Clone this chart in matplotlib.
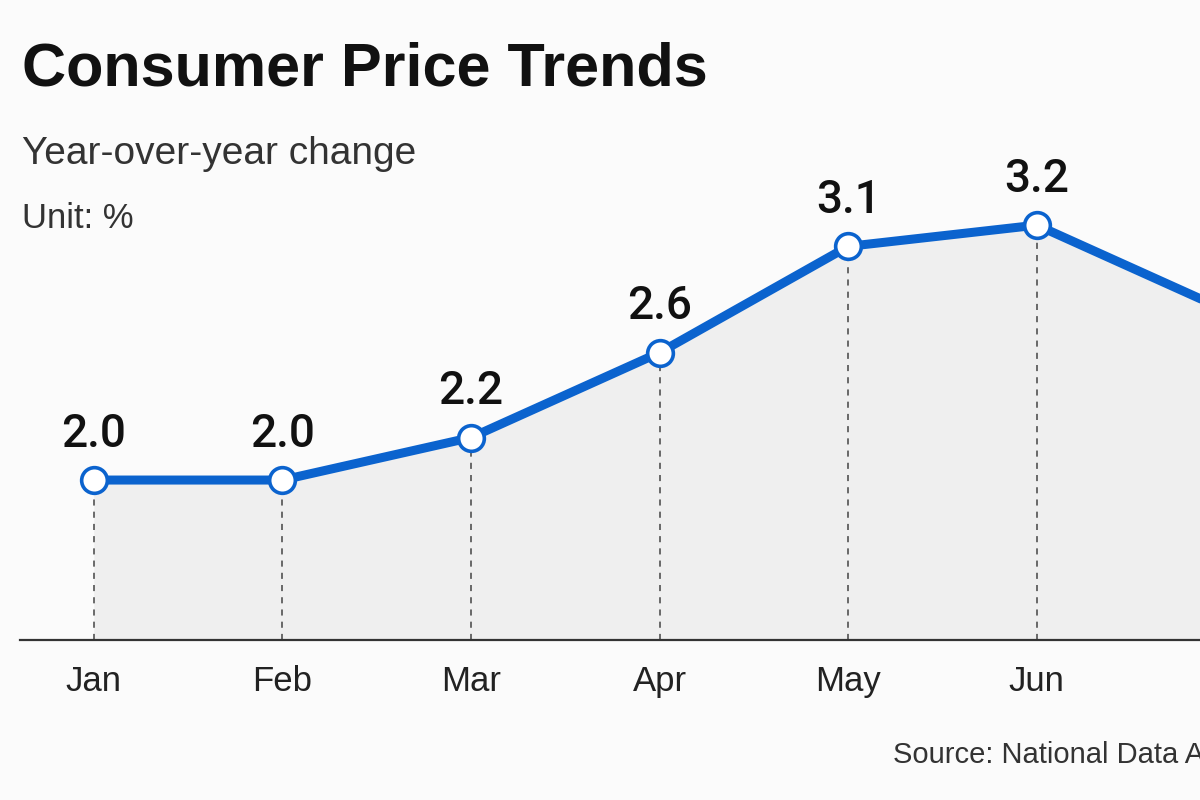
#!/usr/bin/env python3

import matplotlib.pyplot as plt

plt.rcParams['font.family'] = ['Liberation Sans', 'DejaVu Sans']

# Data (Jul is cut off at the right edge)
months = ['Jan', 'Feb', 'Mar', 'Apr', 'May', 'Jun', 'Jul']
cpi_yoy = [2.0, 2.0, 2.2, 2.6, 3.1, 3.2, 2.8]
n_labeled = 6  # only the first six points are visible in the frame

title = 'Consumer Price Trends'
subtitle = 'Year-over-year change'
unit_note = 'Unit: %'
source_note = 'Source: National Data Agency'

BLUE = '#0b63ce'
BG = '#fbfbfb'
FILL = '#efefef'


def main():
    fig = plt.figure(figsize=(12, 8), dpi=100, facecolor=BG)

    # axes from x=20px to the right edge, y=100px to 640px
    ax = fig.add_axes([20 / 1200, 160 / 800, 1180 / 1200, 540 / 800])
    ax.set_facecolor(BG)
    ax.set_xlim(-0.391, 5.865)
    ax.set_ylim(1.247, 3.789)
    ybot = ax.get_ylim()[0]

    x = list(range(len(months)))

    # shaded area under the line
    ax.fill_between(x, cpi_yoy, ybot, color=FILL, zorder=1, linewidth=0)

    # dashed drop lines
    ax.vlines(x, ybot, cpi_yoy, colors='#444444', linestyles=(0, (4, 4)),
              linewidth=1.1, zorder=2)

    # main line with hollow markers
    ax.plot(x, cpi_yoy, color=BLUE, linewidth=6.5, solid_capstyle='round',
            solid_joinstyle='round', zorder=3)
    ax.plot(x, cpi_yoy, linestyle='none', marker='o', markersize=18.5,
            markerfacecolor='white', markeredgecolor=BLUE,
            markeredgewidth=2.6, zorder=4)

    # value labels
    for xi, v in zip(x[:n_labeled], cpi_yoy[:n_labeled]):
        ax.annotate(f'{v:.1f}', (xi, v), xytext=(0, 24),
                    textcoords='offset points', ha='center', va='baseline',
                    fontsize=33, color='#111111',
                    family=['Roboto', 'Liberation Sans'], fontweight='medium')

    # axes styling
    for side in ['top', 'right', 'left']:
        ax.spines[side].set_visible(False)
    ax.spines['bottom'].set_color('#333333')
    ax.spines['bottom'].set_linewidth(1.6)
    ax.set_yticks([])
    ax.set_xticks(x[:n_labeled])
    ax.set_xticklabels(months[:n_labeled], fontsize=25, color='#222222')
    ax.tick_params(axis='x', length=0, pad=18)

    # header and footer text
    fig.text(22 / 1200, 1 - 85 / 800, title, fontsize=44, fontweight='bold',
             color='#111111', va='baseline', ha='left')
    fig.text(22 / 1200, 1 - 164 / 800, subtitle, fontsize=28,
             color='#333333', va='baseline', ha='left')
    fig.text(22 / 1200, 1 - 228 / 800, unit_note, fontsize=25,
             color='#333333', va='baseline', ha='left')
    fig.text(893 / 1200, 1 - 763 / 800, source_note, fontsize=21,
             color='#333333', va='baseline', ha='left')

    fig.savefig('out.png', dpi=100, facecolor=BG)


if __name__ == "__main__":
    main()
